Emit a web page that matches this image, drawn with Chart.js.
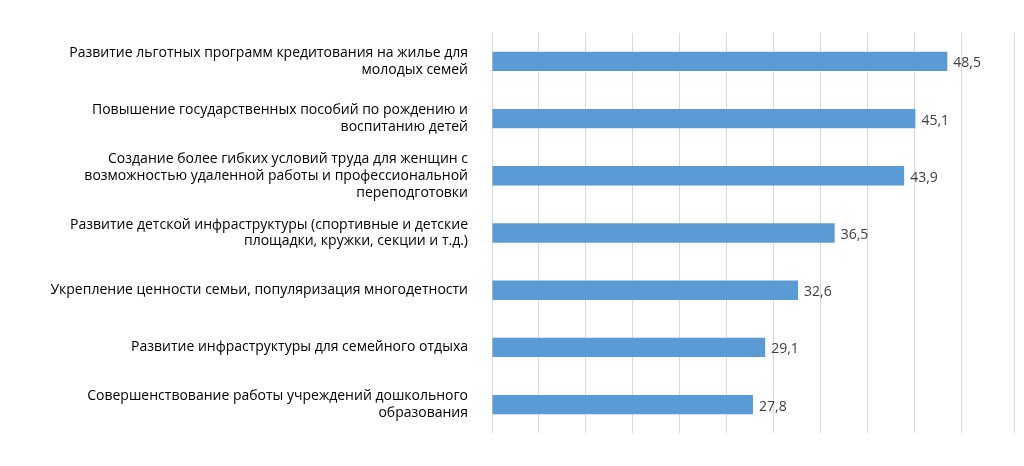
<!DOCTYPE html>
<html><head><meta charset="utf-8">
<script src="https://cdn.jsdelivr.net/npm/chart.js@4"></script>
<style>html,body{margin:0;padding:0;background:#fff}#w{width:1024px;height:466px}</style>
</head><body><div id="w"><canvas id="c"></canvas></div>
<script>
const categories = [
  ["Развитие льготных программ кредитования на жилье для","молодых семей"],
  ["Повышение государственных пособий по рождению и","воспитанию детей"],
  ["Создание более гибких условий труда для женщин с","возможностью удаленной работы и профессиональной","переподготовки"],
  ["Развитие детской инфраструктуры (спортивные и детские","площадки, кружки, секции и т.д.)"],
  ["Укрепление ценности семьи, популяризация многодетности"],
  ["Развитие инфраструктуры для семейного отдыха"],
  ["Совершенствование работы учреждений дошкольного","образования"]
];
const values = [48.5, 45.1, 43.9, 36.5, 32.6, 29.1, 27.8];
const valueLabels = ["48,5","45,1","43,9","36,5","32,6","29,1","27,8"];

const dl = {id:'dl', afterDatasetsDraw(ch){
  const ctx=ch.ctx; ctx.save(); ctx.font='14px "Open Sans"'; ctx.fillStyle='#404040';
  ctx.textBaseline='middle';
  ch.getDatasetMeta(0).data.forEach((b,i)=>{ctx.fillText(valueLabels[i], b.x+6, b.y+2);});
  ctx.restore();
}};
new Chart(document.getElementById('c'),{
  type:'bar',
  data:{labels:categories,datasets:[{data:values,backgroundColor:'#5b9bd5',borderWidth:0,barPercentage:0.34,categoryPercentage:1}]},
  options:{indexAxis:'y',responsive:true,maintainAspectRatio:false,animation:false,
    layout:{padding:{top:7,bottom:0,right:10,left:0}},
    plugins:{legend:{display:false},tooltip:{enabled:false}},
    scales:{
      x:{min:0,max:55.6,ticks:{display:false,stepSize:5},grid:{color:'#d9d9d9',drawTicks:false},border:{display:false},afterFit(s){s.height=0;}},
      y:{grid:{display:false},border:{display:false},afterFit(s){s.width=492;},
        ticks:{color:'#000',font:{family:'"Open Sans"',size:14},padding:16,crossAlign:'near'}}
    }}
  ,plugins:[dl]});
</script></body></html>
